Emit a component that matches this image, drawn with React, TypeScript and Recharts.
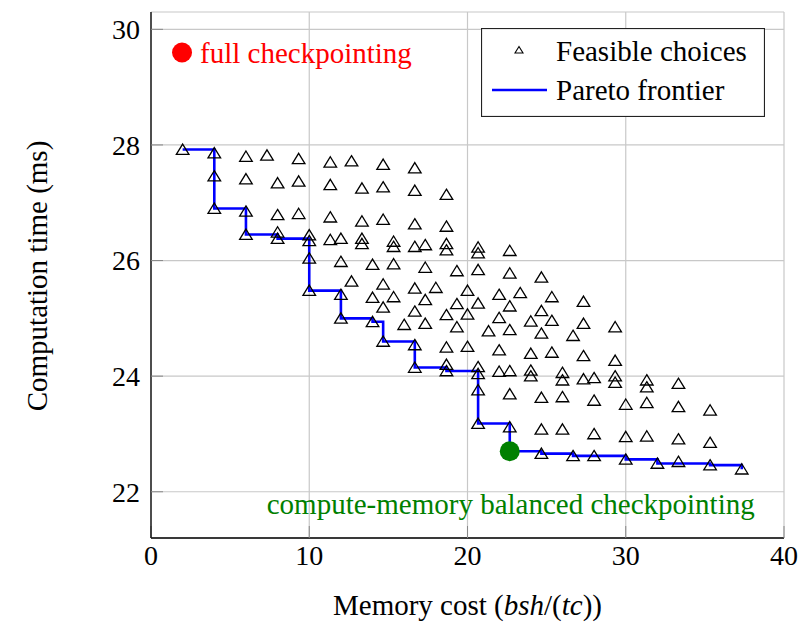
import { CartesianGrid, ComposedChart, Legend, Line, ReferenceDot, Scatter, XAxis, YAxis } from 'recharts'

const FONT = 'Liberation Serif, Tinos, Times New Roman, DejaVu Serif, serif'

const xTicks = [0, 10, 20, 30, 40]
const yTicks = [22, 24, 26, 28, 30]

// memory cost columns and the computation times measured at each of them
const memCols = [2, 4, 6, 7.33, 8, 9.33, 10, 11.33, 12, 12.67, 13.33, 14, 14.67, 15.33, 16, 16.67, 17.33, 18, 18.67, 19.33,
  20, 20.67, 21.33, 22, 22.67, 23.33, 24, 24.67, 25.33, 26, 26.67, 27.33, 28, 29.33, 30, 31.33, 32, 33.33, 35.33, 37.33]
const timesByCol = [
  [27.92],
  [27.86, 27.46, 26.9],
  [27.8, 27.41, 26.85, 26.45],
  [27.82],
  [27.34, 26.79, 26.49, 26.38],
  [27.76, 27.37, 26.81],
  [26.44, 26.34, 26.04, 25.48],
  [27.7, 27.31, 26.75, 26.36],
  [26.38, 25.98, 25.41, 25.0],
  [27.72, 25.64],
  [27.25, 26.68, 26.38, 26.29],
  [25.93, 25.36, 24.94],
  [27.66, 27.27, 26.71, 25.59, 25.19, 24.6],
  [26.33, 26.24, 25.94, 25.37],
  [24.89],
  [27.6, 27.21, 26.63, 26.24, 25.52, 25.12, 24.54, 24.15],
  [26.27, 25.88, 25.32, 24.91],
  [25.53],
  [27.14, 26.59, 26.29, 26.18, 25.06, 24.5, 24.2, 24.09],
  [25.82, 25.25, 24.85],
  [25.48, 25.07, 24.51],
  [26.23, 26.13, 25.84, 25.26, 24.16, 24.04, 23.76, 23.18],
  [24.78],
  [25.41, 25.01, 24.45, 24.08],
  [26.17, 25.78, 25.21, 24.8, 24.09, 23.69, 23.12, 22.7],
  [25.44],
  [24.95, 24.39, 24.1, 24.0],
  [25.71, 25.13, 24.74, 23.63, 23.08, 22.66],
  [25.37, 24.96, 24.41],
  [24.06, 23.93, 23.64, 23.08],
  [24.7, 22.62],
  [25.29, 24.91, 24.35, 23.95],
  [23.97, 23.58, 23.0, 22.62],
  [24.85, 24.27, 24.0, 23.89],
  [23.51, 22.95, 22.56],
  [23.93, 23.81, 23.54, 22.96],
  [22.49],
  [23.87, 23.47, 22.91, 22.52],
  [23.41, 22.85, 22.46],
  [22.39],
]

const frontierMem = [2, 4, 4, 4, 6, 6, 8, 10, 10, 10, 12, 12, 14, 14.67, 16.67, 16.67, 18.67, 20.67, 20.67, 20.67,
  22.67, 22.67, 24.67, 26.67, 28, 30, 32, 35.33, 37.33]
const frontierTime = [27.92, 27.86, 27.46, 26.9, 26.85, 26.45, 26.38, 26.34, 26.04, 25.48, 25.41, 25.0, 24.94, 24.6,
  24.54, 24.15, 24.09, 24.04, 23.76, 23.18, 23.12, 22.7, 22.66, 22.62, 22.62, 22.56, 22.49, 22.46, 22.39]

const fullCkpt = { x: 1.96, y: 29.6 }
const balancedCkpt = { x: 22.67, y: 22.7 }
const balancedLabelAt = { x: 38.15, y: 21.79 }

const feasible = memCols.flatMap((m, i) => timesByCol[i].map((t) => ({ x: m, y: t })))
const frontier = frontierMem.map((m, i) => ({ x: m, y: frontierTime[i] }))

const Triangle = (props: any) => {
  const { cx, cy } = props
  return (
    <path
      d={`M${cx},${cy - 5.5} L${cx + 6.3},${cy + 4.8} L${cx - 6.3},${cy + 4.8} Z`}
      fill="none"
      stroke="#000"
      strokeWidth={1.3}
    />
  )
}

const txt = { fontFamily: FONT, fontSize: 29 }

const LegendBox = () => (
  <svg width={284} height={89} style={{ display: 'block' }}>
    <rect x={0.5} y={0.5} width={283} height={88} fill="#fff" stroke="#222" strokeWidth={1.2} />
    <path d="M38,18.5 L42,25 L34,25 Z" fill="none" stroke="#000" strokeWidth={1.1} />
    <text x={75} y={33} style={txt} fill="#000">Feasible choices</text>
    <line x1={11} x2={66} y1={62} y2={62} stroke="#0000ff" strokeWidth={2.5} />
    <text x={75} y={72} style={txt} fill="#000">Pareto frontier</text>
  </svg>
)

export default function App() {
  const tickStyle = { fill: '#000', fontSize: 28, fontFamily: FONT }
  return (
    <div style={{ position: 'absolute', left: 0, top: 0, fontFamily: FONT }}>
      <ComposedChart width={800} height={625} margin={{ top: 12, right: 16, bottom: 0, left: 0 }}>
        <CartesianGrid stroke="#c8c8c8" strokeWidth={1.2} />
        <XAxis
          dataKey="x"
          type="number"
          domain={[0, 40]}
          ticks={xTicks}
          allowDataOverflow
          interval={0}
          height={87}
          tick={tickStyle}
          tickSize={-12}
          tickMargin={19}
          tickLine={{ stroke: '#888' }}
          axisLine={{ stroke: '#000', strokeWidth: 1.3 }}
          label={{
            content: () => (
              <text x={467.5} y={615} textAnchor="middle" style={txt} fill="#000">
                Memory cost (<tspan fontStyle="italic">bsh</tspan>/(<tspan fontStyle="italic">tc</tspan>))
              </text>
            ),
          }}
        />
        <XAxis
          xAxisId="top"
          orientation="top"
          type="number"
          domain={[0, 40]}
          ticks={xTicks}
          allowDataOverflow
          height={0}
          tick={false}
          tickSize={-12}
          tickLine={{ stroke: '#888' }}
          axisLine={{ stroke: '#000', strokeWidth: 1.3 }}
        />
        <YAxis
          dataKey="y"
          type="number"
          domain={[21.2, 30.3]}
          ticks={yTicks}
          allowDataOverflow
          interval={0}
          width={151}
          tick={tickStyle}
          tickSize={-12}
          tickMargin={23}
          tickLine={{ stroke: '#888' }}
          axisLine={{ stroke: '#000', strokeWidth: 1.3 }}
          label={{
            content: () => (
              <text x={47} y={276} transform="rotate(-90 47 276)" textAnchor="middle" style={txt} fill="#000">
                Computation time (ms)
              </text>
            ),
          }}
        />
        <YAxis
          yAxisId="right"
          orientation="right"
          type="number"
          domain={[21.2, 30.3]}
          ticks={yTicks}
          allowDataOverflow
          width={0}
          tick={false}
          tickSize={-12}
          tickLine={{ stroke: '#888' }}
          axisLine={{ stroke: '#000', strokeWidth: 1.3 }}
        />
        <Legend
          layout="vertical"
          align="center"
          verticalAlign="middle"
          content={() => <LegendBox />}
          wrapperStyle={{ left: 481, top: 28, width: 284, height: 89, margin: 0 }}
        />
        <Scatter data={feasible} dataKey="y" shape={<Triangle />} isAnimationActive={false} />
        <Line
          data={frontier}
          dataKey="y"
          type="stepAfter"
          stroke="#0000ff"
          strokeWidth={2.6}
          dot={false}
          activeDot={false}
          isAnimationActive={false}
        />
        <ReferenceDot
          x={fullCkpt.x}
          y={fullCkpt.y}
          r={10}
          fill="#ff0000"
          stroke="none"
          label={{ value: 'full checkpointing', position: 'right', offset: 8, fill: '#ff0000', fontSize: 29, fontFamily: FONT }}
        />
        <ReferenceDot x={balancedCkpt.x} y={balancedCkpt.y} r={10} fill="#008000" stroke="none" />
        <ReferenceDot
          x={balancedLabelAt.x}
          y={balancedLabelAt.y}
          r={0}
          fill="none"
          stroke="none"
          label={{ value: 'compute-memory balanced checkpointing', position: 'left', offset: 0, fill: '#008000', fontSize: 29, fontFamily: FONT }}
        />
      </ComposedChart>
    </div>
  )
}
